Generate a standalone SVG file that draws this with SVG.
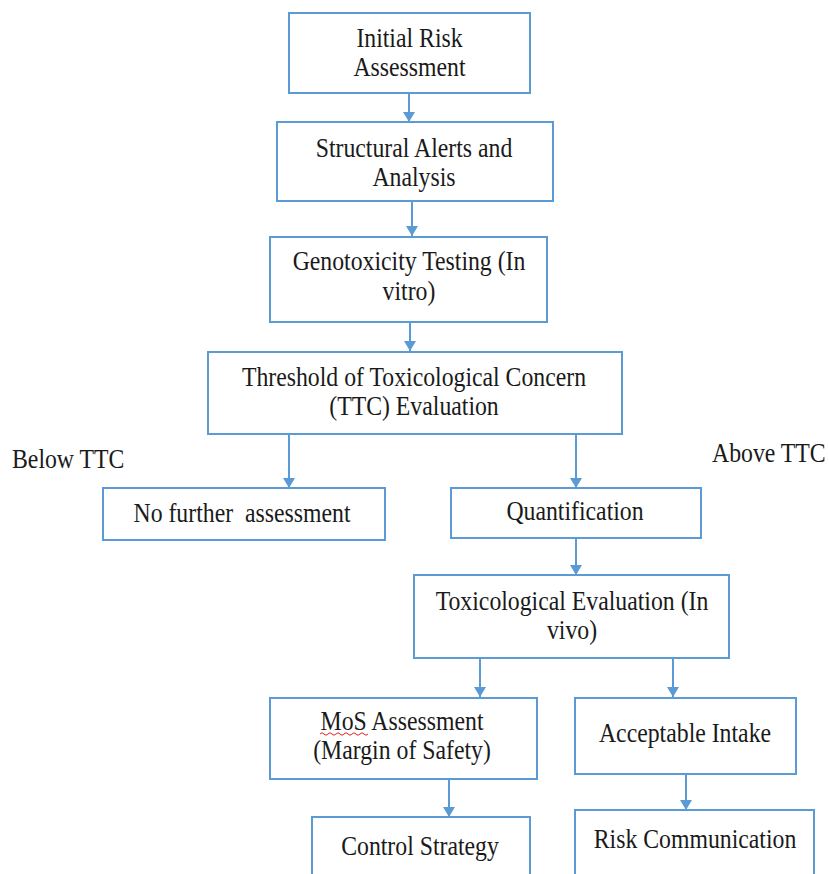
<svg xmlns="http://www.w3.org/2000/svg" width="829" height="874" viewBox="0 0 829 874">
<style>
.box{fill:#ffffff;stroke:#5B9BD5;stroke-width:2}
.t{font-family:"Liberation Serif","DejaVu Serif",serif;font-size:27px;fill:#1a1a1a;text-anchor:middle}
.l{font-family:"Liberation Serif","DejaVu Serif",serif;font-size:27px;fill:#1a1a1a;text-anchor:start}
.c{stroke:#5B9BD5;stroke-width:2;fill:none;marker-end:url(#ah)}
</style>
<defs>
<marker id="ah" markerUnits="userSpaceOnUse" markerWidth="11" markerHeight="12" refX="10" refY="6" orient="auto" viewBox="0 0 11 12">
<path d="M0,0 L10,6 L0,12 Z" fill="#5B9BD5"/>
</marker>
</defs>
<rect width="829" height="874" fill="#ffffff"/>

<g id="connectors">
<line class="c" x1="409" y1="93" x2="409" y2="122"/>
<line class="c" x1="412" y1="201" x2="412" y2="236"/>
<line class="c" x1="410" y1="322" x2="410" y2="351"/>
<line class="c" x1="289" y1="434" x2="289" y2="488"/>
<line class="c" x1="576" y1="434" x2="576" y2="488"/>
<line class="c" x1="576" y1="538" x2="576" y2="575"/>
<line class="c" x1="480" y1="658" x2="480" y2="697"/>
<line class="c" x1="673" y1="658" x2="673" y2="697"/>
<line class="c" x1="449" y1="779" x2="449" y2="817"/>
<line class="c" x1="686" y1="774" x2="686" y2="810"/>
</g>

<g id="initial-risk">
<rect class="box" x="289" y="13" width="241" height="80"/>
<text class="t" font-family="Liberation Serif, serif" transform="translate(409.5,0) scale(0.88,1)"><tspan x="0" y="47">Initial Risk</tspan><tspan x="0" y="76">Assessment</tspan></text>
</g>

<g id="structural-alerts">
<rect class="box" x="277" y="122" width="276" height="79"/>
<text class="t" font-family="Liberation Serif, serif" transform="translate(414,0) scale(0.88,1)"><tspan x="0" y="157">Structural Alerts and</tspan><tspan x="0" y="186">Analysis</tspan></text>
</g>

<g id="genotoxicity">
<rect class="box" x="270" y="237" width="277" height="85"/>
<text class="t" font-family="Liberation Serif, serif" transform="translate(409,0) scale(0.88,1)"><tspan x="0" y="270">Genotoxicity Testing (In</tspan><tspan x="0" y="300">vitro)</tspan></text>
</g>

<g id="ttc">
<rect class="box" x="208" y="352" width="414" height="82"/>
<text class="t" font-family="Liberation Serif, serif" transform="translate(414,0) scale(0.88,1)"><tspan x="0" y="386">Threshold of Toxicological Concern</tspan><tspan x="0" y="415">(TTC) Evaluation</tspan></text>
</g>

<g id="label-below">
<text class="l" font-family="Liberation Serif, serif" transform="translate(12,0) scale(0.88,1)"><tspan x="0" y="468">Below TTC</tspan></text>
</g>
<g id="label-above">
<text class="l" font-family="Liberation Serif, serif" transform="translate(712,0) scale(0.88,1)"><tspan x="0" y="462">Above TTC</tspan></text>
</g>

<g id="no-further">
<rect class="box" x="103" y="488" width="282" height="52"/>
<text class="t" font-family="Liberation Serif, serif" transform="translate(242,0) scale(0.88,1)"><tspan x="0" y="522">No further&#160; assessment</tspan></text>
</g>

<g id="quantification">
<rect class="box" x="451" y="488" width="250" height="50"/>
<text class="t" font-family="Liberation Serif, serif" transform="translate(575,0) scale(0.88,1)"><tspan x="0" y="520">Quantification</tspan></text>
</g>

<g id="tox-eval">
<rect class="box" x="414" y="575" width="315" height="83"/>
<text class="t" font-family="Liberation Serif, serif" transform="translate(572,0) scale(0.88,1)"><tspan x="0" y="610">Toxicological Evaluation (In</tspan><tspan x="0" y="639">vivo)</tspan></text>
</g>

<g id="mos">
<rect class="box" x="270" y="698" width="267" height="81"/>
<text class="t" font-family="Liberation Serif, serif" transform="translate(402,0) scale(0.88,1)"><tspan x="0" y="730">MoS Assessment</tspan><tspan x="0" y="759">(Margin of Safety)</tspan></text>
<path d="M320,734 q2,-2.5 4,0 t4,0 t4,0 t4,0 t4,0 t4,0 t4,0 t4,0 t4,0 t4,0 t4,0 t4,0" fill="none" stroke="#e02020" stroke-width="1"/>
</g>

<g id="acceptable-intake">
<rect class="box" x="575" y="698" width="221" height="76"/>
<text class="t" font-family="Liberation Serif, serif" transform="translate(685,0) scale(0.88,1)"><tspan x="0" y="742">Acceptable Intake</tspan></text>
</g>

<g id="control-strategy">
<rect class="box" x="312" y="817" width="218" height="80"/>
<text class="t" font-family="Liberation Serif, serif" transform="translate(420,0) scale(0.88,1)"><tspan x="0" y="855">Control Strategy</tspan></text>
</g>

<g id="risk-communication">
<rect class="box" x="575" y="810" width="239" height="90"/>
<text class="t" font-family="Liberation Serif, serif" transform="translate(695,0) scale(0.88,1)"><tspan x="0" y="848">Risk Communication</tspan></text>
</g>
</svg>
